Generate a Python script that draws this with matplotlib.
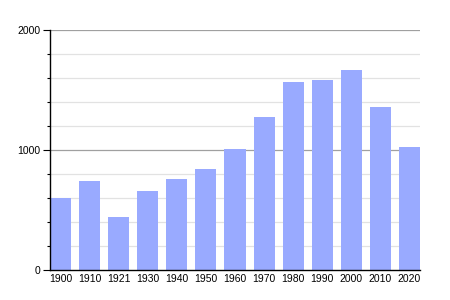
import matplotlib
matplotlib.use("Agg")
import matplotlib.pyplot as plt
import numpy as np

plt.rcParams['font.family'] = ['Liberation Sans', 'DejaVu Sans']

# 年份与数值
years = ["1900", "1910", "1921", "1930", "1940", "1950", "1960",
         "1970", "1980", "1990", "2000", "2010", "2020"]
values = [597, 742, 439, 658, 758, 842, 1008, 1272, 1567, 1581, 1667, 1358, 1025]

bar_w = 0.724
fig = plt.figure(figsize=(4.5, 3), dpi=100)
ax = fig.add_axes([50 / 450, 30 / 300, 370 / 450, 240 / 300])

x = np.arange(len(years))

# 网格线
for y in range(200, 2001, 200):
    if y % 1000 == 0:
        ax.axhline(y, color="#a0a0a0", lw=0.9, zorder=1)
    else:
        ax.axhline(y, color="#e2e2e2", lw=0.9, zorder=1)

ax.bar(x, values, width=bar_w, color="#99aaff", zorder=2)

ax.set_xlim(-bar_w / 2, len(years) - 1 + bar_w / 2)
ax.set_ylim(0, 2000)

ax.set_yticks([0, 1000, 2000])
ax.set_yticks(range(0, 2001, 200), minor=True)
ax.set_xticks(x)
ax.set_xticklabels(years)
ax.tick_params(axis="y", which="major", length=5, width=0.8, direction="out", labelsize=7.5, pad=2)
ax.tick_params(axis="y", which="minor", length=2.2, width=0.8, direction="out")
ax.tick_params(axis="x", length=0, labelsize=7.5, pad=3)

for s in ["top", "right"]:
    ax.spines[s].set_visible(False)
ax.spines["left"].set_color("black")
ax.spines["bottom"].set_color("black")
ax.spines["left"].set_linewidth(1)
ax.spines["bottom"].set_linewidth(1)
ax.spines["left"].set_zorder(3)
ax.spines["bottom"].set_zorder(3)

fig.savefig("out.png", dpi=100)
